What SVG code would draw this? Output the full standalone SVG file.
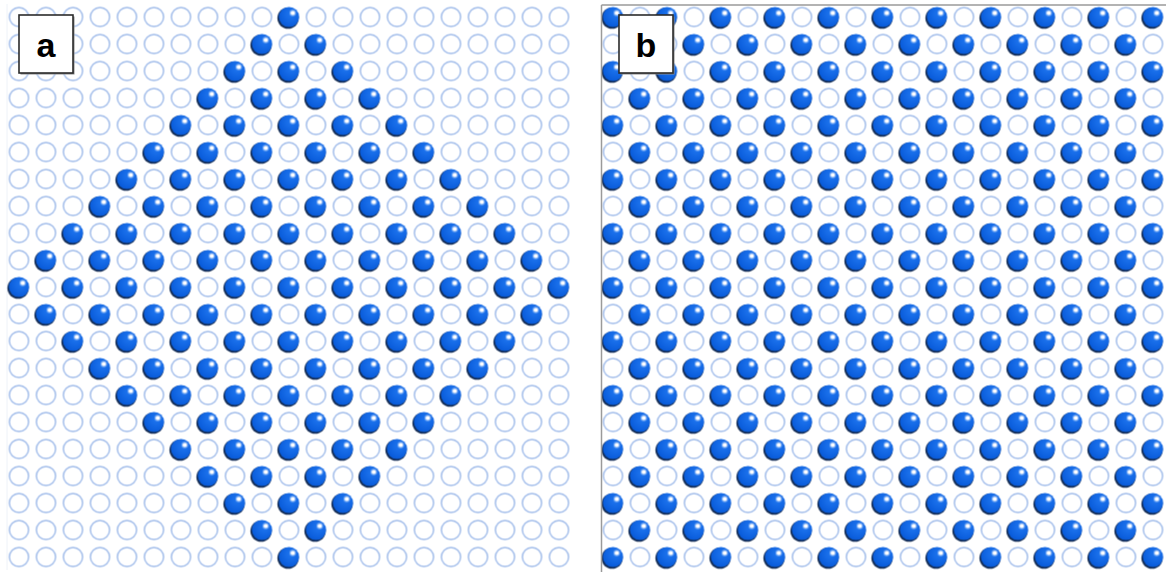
<svg xmlns="http://www.w3.org/2000/svg" xmlns:xlink="http://www.w3.org/1999/xlink" width="1171" height="572" viewBox="0 0 1171 572">
  <style>
    .empty { fill: none; stroke: #a2bdea; stroke-width: 1.5; }
    .shadow { fill: #132c55; }
    .ball { fill: url(#ballGrad); }
    .hl { fill: #ffffff; }
    .halo { fill: #ffffff; opacity: 0.4; }
    .labelbox { fill: #ffffff; stroke: #2b2b2b; stroke-width: 1.6; }
    .labelshadow { fill: #8a8a8a; }
    .label { font-family: "Liberation Sans", Arial, sans-serif; font-weight: bold; font-size: 34px; fill: #000000; text-anchor: middle; }
    .frame { stroke: #9a9a9a; stroke-width: 1.5; fill: none; }
  </style>
  <defs>
    <radialGradient id="ballGrad" cx="0.62" cy="0.35" r="0.7">
      <stop offset="0" stop-color="#1f76f0"/>
      <stop offset="1" stop-color="#0759d8"/>
    </radialGradient>
    <g id="emptyCell">
      <circle class="empty" cx="0" cy="0" r="9.6"/>
    </g>
    <g id="filledCell">
      <circle fill="#ffffff" cx="0" cy="0" r="11.6"/>
      <circle class="shadow" cx="-0.9" cy="1.1" r="10.7"/>
      <circle class="ball" cx="0" cy="0" r="10.1"/>
      <circle class="halo" cx="3.8" cy="-4" r="3.2"/>
      <circle class="hl" cx="3.8" cy="-4" r="2.1"/>
    </g>
    <pattern id="emptyGrid" patternUnits="userSpaceOnUse" x="5.5" y="3.5" width="27" height="27">
      <use href="#emptyCell" x="13.5" y="13.5"/>
    </pattern>
    <pattern id="filledChecker" patternUnits="userSpaceOnUse" x="275.5" y="273.5" width="54" height="54">
      <use href="#filledCell" x="13.5" y="13.5"/>
      <use href="#filledCell" x="40.5" y="40.5"/>
    </pattern>
    <pattern id="fullChecker" patternUnits="userSpaceOnUse" x="599.5" y="3.5" width="54" height="54">
      <use href="#filledCell" x="13.5" y="13.5"/>
      <use href="#filledCell" x="40.5" y="40.5"/>
      <use href="#emptyCell" x="40.5" y="13.5"/>
      <use href="#emptyCell" x="13.5" y="40.5"/>
    </pattern>
    <clipPath id="diamond">
      <polygon points="-6,287 289,-8 584,287 289,582"/>
    </clipPath>
  </defs>

  <rect x="0" y="0" width="1171" height="572" fill="#ffffff"/>

  <g id="panel-a">
    <line x1="7" y1="4" x2="7" y2="570" stroke="#eef2f8" stroke-width="1"/>
    <rect x="5.5" y="3.5" width="567" height="567" fill="url(#emptyGrid)"/>
    <rect x="-10" y="-10" width="600" height="600" fill="url(#filledChecker)" clip-path="url(#diamond)"/>
    <g id="label-a">
      <rect class="labelshadow" x="20.5" y="16.5" width="54" height="58"/>
      <rect class="labelbox" x="19" y="15" width="54" height="58"/>
      <text class="label" x="46" y="57">a</text>
    </g>
  </g>

  <g id="panel-b">
    <rect x="601" y="5" width="566" height="567" fill="url(#fullChecker)"/>
    <line class="frame" x1="601.5" y1="5" x2="1166" y2="5"/>
    <line class="frame" x1="601.5" y1="5" x2="601.5" y2="572"/>
    <g id="label-b">
      <rect class="labelshadow" x="620.5" y="16.5" width="54" height="58"/>
      <rect class="labelbox" x="619" y="15" width="54" height="58"/>
      <text class="label" x="646" y="57">b</text>
    </g>
  </g>
  <g id="connectors"/>
</svg>
